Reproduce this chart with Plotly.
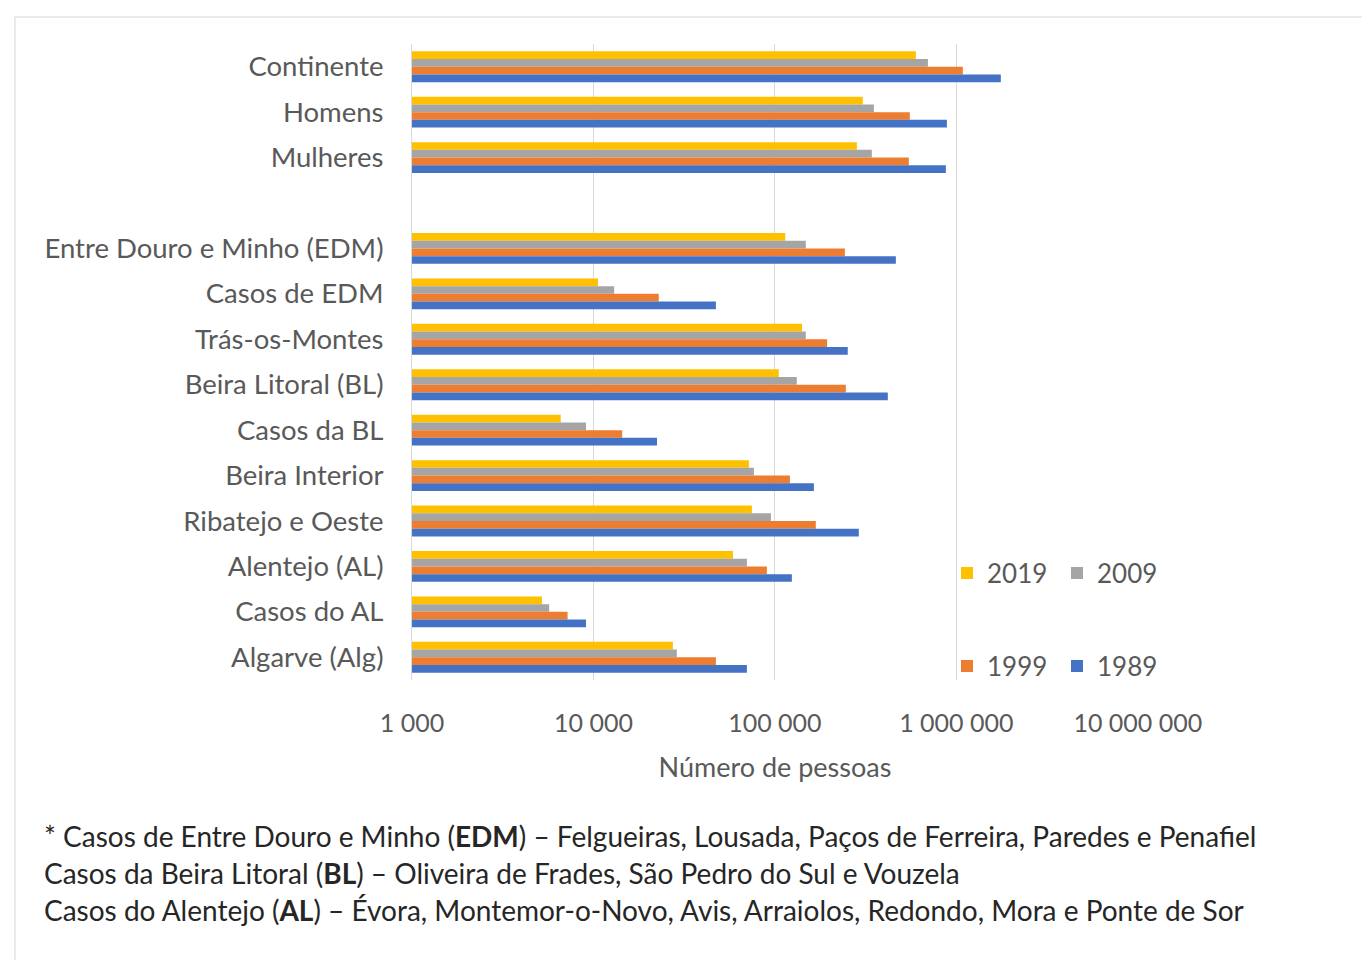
import plotly.graph_objects as go

categories = ["Continente", "Homens", "Mulheres", " ",
              "Entre Douro e Minho (EDM)", "Casos de EDM", "Trás-os-Montes",
              "Beira Litoral (BL)", "Casos da BL", "Beira Interior",
              "Ribatejo e Oeste", "Alentejo (AL)", "Casos do AL", "Algarve (Alg)"]

v2019 = [598000, 305000, 283000, None, 114000, 10600, 141000, 105000, 6600, 71900, 74700, 58700, 5200, 27400]
v2009 = [697000, 351000, 342000, None, 148000, 13000, 148000, 132000, 9100, 76600, 95100, 70100, 5700, 28800]
v1999 = [1086000, 554000, 547000, None, 243000, 22900, 194000, 246000, 14400, 121000, 168000, 90300, 7200, 47300]
v1989 = [1758000, 887000, 875000, None, 464000, 47300, 252000, 419000, 22400, 164000, 290000, 124000, 9100, 70100]

years = ["2019", "2009", "1999", "1989"]
series = [v2019, v2009, v1999, v1989]
colors = ["#FFC000", "#A5A5A5", "#ED7D31", "#4472C4"]
legends = ["legend", "legend", "legend2", "legend2"]

tick_vals = [1e3, 1e4, 1e5, 1e6, 1e7]
tick_text = ["1 000", "10 000", "100 000", "1 000 000", "10 000 000"]

FONT = "Lato, 'Open Sans', sans-serif"
GRAY = "#595959"

fig = go.Figure()
for name, vals, col, lg in zip(years, series, colors, legends):
    fig.add_trace(go.Bar(
        y=categories, x=vals, name=name, orientation="h",
        marker=dict(color=col, line=dict(width=0)), legend=lg,
    ))

W, H = 1370, 960
OFF = 8  # page body offset
L, R, T, B = 412, 1138, 44, 680  # plot area in page coordinates


def px(xp):
    return (xp - L) / (R - L)


def py(yp):
    return (B - yp) / (B - T)


fig.update_layout(
    width=W, height=H,
    margin=dict(l=L - OFF, r=W - (R - OFF), t=T - OFF, b=H - (B - OFF)),
    paper_bgcolor="white", plot_bgcolor="white",
    barmode="group", bargap=0.32, bargroupgap=0,
    font=dict(family=FONT, color=GRAY, size=22),
    showlegend=True,
    legend=dict(orientation="h", x=px(947), y=py(573), xanchor="left", yanchor="middle",
                bgcolor="rgba(0,0,0,0)", font=dict(size=26, color=GRAY),
                entrywidth=65, traceorder="normal"),
    legend2=dict(orientation="h", x=px(947), y=py(666), xanchor="left", yanchor="middle",
                 bgcolor="rgba(0,0,0,0)", font=dict(size=26, color=GRAY),
                 entrywidth=65, traceorder="normal"),
    xaxis=dict(type="log", range=[3, 7.001], tickvals=tick_vals, ticktext=tick_text,
               showgrid=True, gridcolor="#D9D9D9", gridwidth=1,
               zeroline=False, showline=False, ticks="",
               tickfont=dict(size=25, color=GRAY), ticklabelstandoff=26,
               title=dict(text="Número de pessoas", font=dict(size=27, color=GRAY), standoff=22)),
    yaxis=dict(type="category", categoryorder="array", categoryarray=categories,
               autorange="reversed", showgrid=False, zeroline=False,
               showline=True, linecolor="#D9D9D9", linewidth=1, ticks="",
               tickfont=dict(size=27.5, color=GRAY), ticklabelstandoff=22),
)

notes = [
    "* Casos de Entre Douro e Minho (<b>EDM</b>) – Felgueiras, Lousada, Paços de Ferreira, Paredes e Penafiel",
    "Casos da Beira Litoral (<b>BL</b>) – Oliveira de Frades, São Pedro do Sul e Vouzela",
    "Casos do Alentejo (<b>AL</b>) – Évora, Montemor-o-Novo, Avis, Arraiolos, Redondo, Mora e Ponte de Sor",
]
for txt, yp in zip(notes, [836, 873, 910]):
    fig.add_annotation(text=txt, xref="paper", yref="paper", x=px(42), y=py(yp),
                       xanchor="left", yanchor="middle", showarrow=False,
                       font=dict(size=28, color="#262626", family=FONT))

fig.add_shape(type="rect", xref="paper", yref="paper",
              x0=px(15), x1=px(1380), y0=py(17), y1=py(975),
              line=dict(color="#EBEBEB", width=2), fillcolor="rgba(0,0,0,0)", layer="below")

fig.write_html("out.html")
